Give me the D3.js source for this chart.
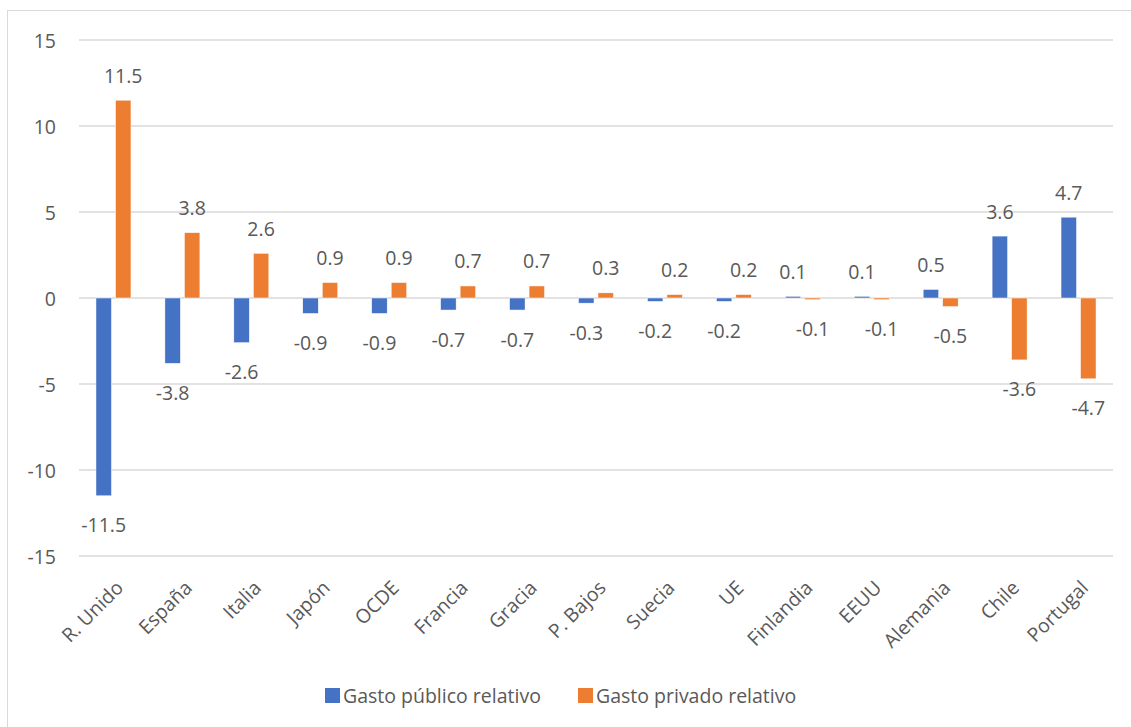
<!DOCTYPE html>
<html>
<head>
<meta charset="utf-8">
<script src="https://cdn.jsdelivr.net/npm/d3@7"></script>
<style>
  body { margin: 0; background: #ffffff; }
  text { font-family: "Open Sans", sans-serif; fill: #595959; }
</style>
</head>
<body>
<div id="chart"></div>
<script>
const w = 1131;
const h = 727;

// data
const countries = ["R. Unido", "España", "Italia", "Japón", "OCDE", "Francia", "Gracia",
  "P. Bajos", "Suecia", "UE", "Finlandia", "EEUU", "Alemania", "Chile", "Portugal"];
const publico = [-11.5, -3.8, -2.6, -0.9, -0.9, -0.7, -0.7, -0.3, -0.2, -0.2, 0.1, 0.1, 0.5, 3.6, 4.7];
const privado = [11.5, 3.8, 2.6, 0.9, 0.9, 0.7, 0.7, 0.3, 0.2, 0.2, -0.1, -0.1, -0.5, -3.6, -4.7];
const yTicks = [-15, -10, -5, 0, 5, 10, 15];
const seriesNames = ["Gasto público relativo", "Gasto privado relativo"];
const colors = ["#4472C4", "#ED7D31"];

let svg = d3.select("#chart").append("svg")
    .attr("width", w).attr("height", h);

// outer frame
svg.append("rect")
    .attr("x", 7.5).attr("y", 10.5)
    .attr("width", w).attr("height", h)
    .attr("fill", "none").attr("stroke", "#d9d9d9");

let x = d3.scaleBand().domain(countries).range([79, 1113]);
let y = d3.scaleLinear().domain([-15, 15]).range([556, 40]);

// gridlines
svg.append("g").selectAll("line")
    .data(yTicks)
    .join("line")
    .attr("x1", 79).attr("x2", 1113)
    .attr("y1", d => y(d)).attr("y2", d => y(d))
    .attr("stroke", "#d9d9d9").attr("stroke-width", 1.3);

// y labels
svg.append("g").selectAll("text")
    .data(yTicks)
    .join("text")
    .attr("x", 56).attr("y", d => y(d))
    .attr("text-anchor", "end")
    .attr("dominant-baseline", "central")
    .style("font-size", "19.5px")
    .text(d => d);

const barW = 15.5;
const gap = 4;
const series = [publico, privado];

series.forEach((vals, s) => {
    let g = svg.append("g");
    const off = s === 0 ? -gap / 2 - barW : gap / 2;
    g.selectAll("rect")
        .data(vals)
        .join("rect")
        .attr("x", (d, i) => x(countries[i]) + x.bandwidth() / 2 + off)
        .attr("width", barW)
        .attr("y", d => y(Math.max(0, d)))
        .attr("height", d => Math.abs(y(d) - y(0)))
        .attr("fill", colors[s])
        .attr("stroke", "#ffffff").attr("stroke-width", 0.5);

    g.selectAll("text")
        .data(vals)
        .join("text")
        .attr("x", (d, i) => x(countries[i]) + x.bandwidth() / 2 + off + barW / 2)
        .attr("y", d => d >= 0 ? y(d) - 25 : y(d) + 29)
        .attr("text-anchor", "middle")
        .attr("dominant-baseline", "central")
        .style("font-size", "19.5px")
        .text(d => d.toFixed(1));
});

// category labels, rotated
svg.append("g").selectAll("text")
    .data(countries)
    .join("text")
    .attr("text-anchor", "end")
    .attr("transform", d => "translate(" + (x(d) + x.bandwidth() / 2 + 11) + ",589) rotate(-45)")
    .style("font-size", "19.5px")
    .text(d => d);

// legend
const legendX = [325, 578];
seriesNames.forEach((name, i) => {
    svg.append("rect")
        .attr("x", legendX[i]).attr("y", 688)
        .attr("width", 15).attr("height", 15)
        .attr("fill", colors[i]);
    svg.append("text")
        .attr("x", legendX[i] + 18).attr("y", 695)
        .attr("dominant-baseline", "central")
        .style("font-size", "19.5px")
        .text(name);
});
</script>
</body>
</html>
